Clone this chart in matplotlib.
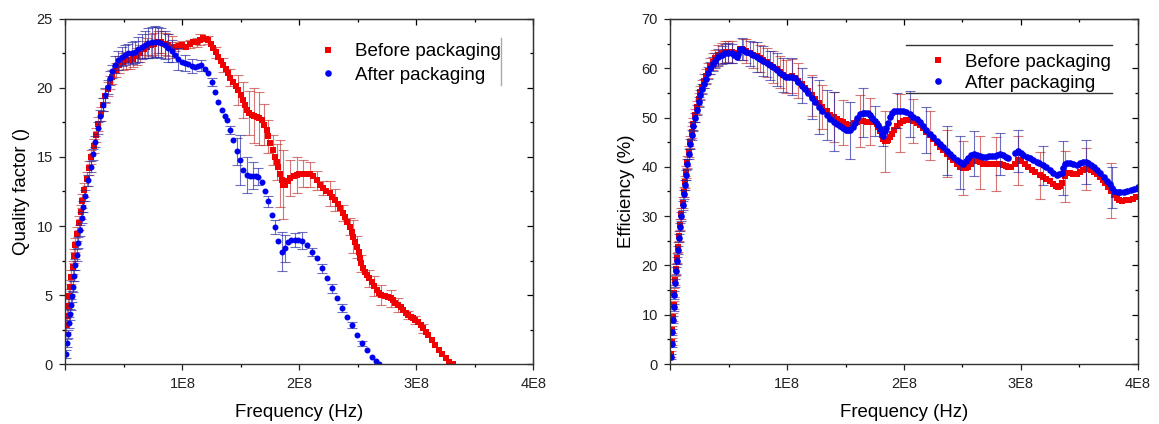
import numpy as np
import matplotlib
matplotlib.use("Agg")
import matplotlib.pyplot as plt
from matplotlib.ticker import MultipleLocator, NullFormatter

plt.rcParams['font.family'] = ['Liberation Sans', 'DejaVu Sans']

# rows: frequency (x 1E8 Hz), value, error bar half-length (0 = no bar)
q_before = np.array([
    (0.008, 2.8, 0.5), (0.015, 3.5, 0.5), (0.022, 4.2, 0.5), (0.030, 4.9, 0.5), (0.040, 5.6, 0.5),
    (0.050, 6.3, 0.5), (0.060, 7.0, 0.5), (0.072, 7.8, 0.5), (0.085, 8.6, 0.5), (0.100, 9.4, 0.5),
    (0.115, 10.2, 0.5), (0.130, 11.0, 0.5), (0.145, 11.8, 0.5), (0.162, 12.6, 0.5), (0.180, 13.4, 0.5),
    (0.200, 14.2, 0.5), (0.220, 15.0, 0.5), (0.240, 15.8, 0.5), (0.260, 16.6, 0.5), (0.280, 17.4, 0.5),
    (0.300, 18.1, 0.5), (0.320, 18.8, 0.5), (0.340, 19.4, 0.5), (0.360, 19.9, 0.5), (0.380, 20.4, 0.5),
    (0.400, 20.8, 0.5), (0.430, 21.3, 0.5), (0.460, 21.7, 0.6), (0.490, 21.9, 0.6), (0.520, 22.0, 0.6),
    (0.550, 22.0, 0.6), (0.580, 22.1, 0.6), (0.610, 22.3, 0.6), (0.640, 22.5, 0.6), (0.670, 22.8, 0.6),
    (0.700, 23.0, 0.6), (0.730, 23.1, 0.8), (0.760, 23.2, 0.8), (0.790, 23.3, 0.8), (0.820, 23.3, 0.8),
    (0.850, 23.2, 0.8), (0.880, 23.1, 0.8), (0.910, 23.0, 0.8), (0.940, 23.0, 0.3), (0.970, 23.05, 0),
    (1.000, 23.1, 0.3), (1.030, 23.0, 0), (1.060, 23.2, 0.3), (1.090, 23.36, 0), (1.120, 23.3, 0.3),
    (1.150, 23.5, 0.4), (1.178, 23.6, 0), (1.200, 23.55, 0), (1.220, 23.5, 0.3), (1.240, 23.2, 0),
    (1.263, 22.9, 0), (1.285, 22.6, 0.4), (1.306, 22.27, 0), (1.330, 21.95, 0), (1.350, 21.67, 0.5),
    (1.370, 21.35, 0), (1.390, 21.06, 0), (1.410, 20.75, 0.6), (1.434, 20.45, 0), (1.455, 20.15, 0),
    (1.477, 19.86, 1.1), (1.500, 19.5, 0), (1.520, 19.13, 1.3), (1.535, 18.75, 0), (1.549, 18.4, 0),
    (1.570, 18.2, 1.6), (1.590, 18.04, 0), (1.610, 18.0, 2.0), (1.634, 17.92, 0), (1.655, 17.8, 1.9),
    (1.677, 17.68, 0), (1.700, 17.35, 1.5), (1.720, 16.96, 0), (1.735, 16.5, 1.2), (1.748, 16.0, 0),
    (1.770, 15.5, 1.1), (1.790, 15.0, 0), (1.805, 14.65, 1.3), (1.820, 14.3, 0), (1.835, 13.8, 2.4),
    (1.848, 13.33, 0), (1.862, 13.0, 2.5), (1.876, 12.97, 0), (1.900, 13.25, 0), (1.920, 13.45, 1.3),
    (1.950, 13.6, 0), (1.976, 13.7, 1.3), (2.000, 13.75, 0), (2.030, 13.8, 1.0), (2.060, 13.8, 0),
    (2.090, 13.75, 0.9), (2.118, 13.65, 0), (2.147, 13.3, 0.7), (2.175, 13.0, 0), (2.200, 12.75, 0.5),
    (2.230, 12.55, 0), (2.260, 12.37, 0.9), (2.280, 12.1, 0), (2.300, 11.9, 0.8), (2.325, 11.6, 0),
    (2.346, 11.28, 0), (2.370, 10.95, 0.6), (2.390, 10.67, 0), (2.410, 10.3, 0), (2.430, 9.95, 0.6),
    (2.446, 9.6, 0), (2.460, 9.22, 1.2), (2.475, 8.85, 0), (2.490, 8.5, 0.8), (2.505, 8.1, 0),
    (2.517, 7.66, 0), (2.530, 7.3, 0.6), (2.545, 6.93, 0), (2.560, 6.7, 0), (2.574, 6.45, 0),
    (2.595, 6.2, 0.6), (2.617, 5.96, 0), (2.640, 5.65, 0.7), (2.660, 5.36, 0), (2.680, 5.15, 0),
    (2.700, 5.0, 0.7), (2.730, 4.95, 0), (2.760, 4.88, 0), (2.780, 4.76, 0.6), (2.800, 4.64, 0),
    (2.820, 4.45, 0), (2.844, 4.28, 0.5), (2.865, 4.1, 0), (2.887, 3.9, 0), (2.910, 3.72, 0),
    (2.930, 3.55, 0.3), (2.950, 3.42, 0), (2.970, 3.3, 0), (2.990, 3.18, 0.3), (3.015, 3.07, 0),
    (3.035, 2.83, 0), (3.058, 2.58, 0.3), (3.080, 2.34, 0), (3.100, 2.1, 0), (3.130, 1.75, 0),
    (3.160, 1.4, 0), (3.190, 1.05, 0), (3.220, 0.7, 0), (3.250, 0.4, 0), (3.280, 0.15, 0),
    (3.310, 0.0, 0),
])

q_after = np.array([
    (0.005, 0.7, 0.3), (0.012, 1.5, 0.3), (0.020, 2.2, 0.3), (0.030, 3.0, 0.4), (0.038, 3.6, 0.4),
    (0.046, 4.3, 0.4), (0.053, 4.9, 0.4), (0.062, 5.6, 0.4), (0.073, 6.4, 0.4), (0.084, 7.2, 0.4),
    (0.095, 7.9, 0.4), (0.110, 8.8, 0.4), (0.124, 9.7, 0.4), (0.138, 10.6, 0.4), (0.152, 11.4, 0.4),
    (0.170, 12.2, 0.4), (0.195, 13.3, 0.4), (0.215, 14.3, 0.4), (0.235, 15.2, 0.4), (0.252, 16.1, 0.4),
    (0.275, 17.1, 0.4), (0.295, 18.0, 0.4), (0.318, 18.8, 0.5), (0.338, 19.5, 0.5), (0.360, 20.1, 0.5),
    (0.380, 20.7, 0.5), (0.400, 21.2, 0.5), (0.423, 21.7, 0.6), (0.450, 22.0, 0.7), (0.480, 22.27, 0.7),
    (0.510, 22.4, 0.7), (0.537, 22.5, 0.7), (0.565, 22.55, 0.8), (0.594, 22.6, 0.8), (0.620, 22.8, 0.9),
    (0.650, 23.0, 0.9), (0.680, 23.15, 1.0), (0.708, 23.24, 1.1), (0.737, 23.3, 1.1), (0.765, 23.36, 1.1),
    (0.790, 23.33, 1.1), (0.820, 23.24, 1.1), (0.850, 23.1, 1.0), (0.879, 22.9, 1.0), (0.910, 22.65, 0.8),
    (0.936, 22.4, 0), (0.965, 22.1, 0.8), (0.993, 21.9, 0), (1.020, 21.8, 0.6), (1.050, 21.75, 0),
    (1.080, 21.6, 0.5), (1.107, 21.5, 0), (1.135, 21.6, 0), (1.160, 21.65, 0.4), (1.190, 21.4, 0),
    (1.220, 21.06, 0), (1.250, 20.45, 0.3), (1.278, 19.7, 0), (1.306, 19.0, 0), (1.335, 18.4, 0),
    (1.360, 18.0, 0), (1.378, 17.7, 0), (1.406, 16.96, 0.3), (1.434, 16.23, 0), (1.463, 15.4, 1.0),
    (1.490, 14.8, 1.8), (1.520, 14.06, 0), (1.549, 13.7, 1.3), (1.580, 13.65, 0), (1.605, 13.65, 1.0),
    (1.630, 13.6, 0), (1.648, 13.57, 0.6), (1.677, 13.2, 0), (1.705, 12.5, 0), (1.733, 11.8, 0.4),
    (1.762, 10.8, 0), (1.790, 9.9, 0.5), (1.820, 8.9, 0), (1.848, 8.14, 1.4), (1.876, 8.38, 1.0),
    (1.904, 8.86, 0), (1.930, 8.95, 0), (1.962, 9.0, 0.5), (1.990, 9.0, 0), (2.020, 8.94, 0.6),
    (2.060, 8.62, 0), (2.104, 8.14, 0.3), (2.147, 7.66, 0), (2.190, 6.93, 0.3), (2.232, 6.2, 0),
    (2.275, 5.48, 0.3), (2.318, 4.76, 0), (2.360, 4.04, 0.3), (2.403, 3.43, 0), (2.446, 2.83, 0.2),
    (2.489, 2.1, 0), (2.532, 1.5, 0.2), (2.574, 1.01, 0), (2.617, 0.53, 0), (2.650, 0.2, 0),
    (2.680, 0.0, 0),
])

eff_before = np.array([
    (0.005, 2.0, 0.6), (0.010, 4.5, 0.7), (0.015, 7.0, 0.7), (0.020, 9.5, 0.8), (0.027, 12.0, 0.8),
    (0.033, 14.5, 0.9), (0.040, 17.0, 0.9), (0.047, 19.3, 1.0), (0.055, 21.5, 1.0), (0.063, 23.7, 1.0),
    (0.073, 26.0, 1.0), (0.083, 28.3, 1.1), (0.093, 30.5, 1.1), (0.103, 32.7, 1.1), (0.113, 34.9, 1.1),
    (0.123, 36.9, 1.2), (0.133, 38.9, 1.2), (0.145, 41.0, 1.2), (0.157, 43.1, 1.2), (0.170, 45.1, 1.2),
    (0.183, 47.0, 1.2), (0.195, 48.7, 1.2), (0.210, 50.5, 1.3), (0.224, 52.1, 1.3), (0.240, 53.7, 1.3),
    (0.255, 55.1, 1.3), (0.270, 56.3, 1.3), (0.285, 57.4, 1.4), (0.300, 58.4, 1.4), (0.320, 59.5, 1.5),
    (0.340, 60.5, 1.6), (0.360, 61.3, 1.7), (0.380, 62.0, 1.8), (0.410, 62.7, 2.0), (0.440, 63.1, 2.1),
    (0.467, 63.3, 2.2), (0.495, 63.4, 2.2), (0.524, 63.3, 2.2), (0.545, 63.1, 0), (0.567, 62.8, 0),
    (0.580, 63.2, 0), (0.595, 64.0, 0), (0.610, 63.9, 0), (0.623, 63.8, 2.2), (0.650, 63.5, 2.4),
    (0.680, 63.1, 0), (0.710, 62.7, 2.6), (0.738, 62.4, 0), (0.765, 62.0, 2.8), (0.795, 61.6, 0),
    (0.825, 61.2, 3.0), (0.852, 60.7, 0), (0.880, 60.3, 3.2), (0.909, 59.8, 0), (0.940, 59.2, 3.3),
    (0.966, 58.7, 0), (0.990, 58.3, 3.4), (1.015, 58.2, 0), (1.040, 58.4, 3.5), (1.066, 58.1, 0),
    (1.095, 57.5, 3.6), (1.123, 56.8, 0), (1.150, 56.1, 0), (1.180, 55.3, 0), (1.210, 54.5, 4.1),
    (1.240, 53.7, 0), (1.270, 52.9, 0), (1.300, 52.1, 4.5), (1.337, 51.3, 0), (1.370, 50.6, 0),
    (1.400, 50.1, 5.0), (1.423, 49.8, 0), (1.450, 49.4, 0), (1.475, 49.0, 4.5), (1.500, 48.7, 0),
    (1.525, 48.4, 0), (1.551, 48.3, 0), (1.575, 48.8, 0), (1.594, 49.1, 0), (1.620, 49.3, 5.2),
    (1.650, 49.3, 0), (1.680, 49.2, 0), (1.708, 49.2, 4.8), (1.730, 49.2, 0), (1.750, 49.0, 0),
    (1.765, 48.6, 0), (1.780, 48.0, 0), (1.795, 47.2, 0), (1.808, 46.4, 0), (1.822, 45.7, 0),
    (1.836, 45.2, 6.2), (1.850, 45.2, 0), (1.865, 45.5, 0), (1.880, 46.0, 0), (1.894, 46.6, 0),
    (1.915, 47.5, 0), (1.937, 48.3, 0), (1.965, 48.9, 5.8), (1.993, 49.3, 0), (2.020, 49.5, 0),
    (2.050, 49.5, 0), (2.080, 49.3, 4.5), (2.108, 48.9, 0), (2.135, 48.4, 0), (2.164, 47.8, 0),
    (2.190, 47.1, 0), (2.222, 46.4, 5.0), (2.250, 45.6, 0), (2.279, 44.9, 0), (2.310, 44.1, 0),
    (2.336, 43.4, 0), (2.365, 42.7, 4.8), (2.393, 42.0, 0), (2.420, 41.3, 0), (2.450, 40.6, 0),
    (2.480, 40.0, 0), (2.507, 39.7, 5.5), (2.530, 39.7, 0), (2.550, 40.0, 0), (2.575, 40.6, 0),
    (2.600, 41.1, 0), (2.620, 41.2, 0), (2.650, 40.9, 5.3), (2.680, 40.6, 0), (2.710, 40.6, 0),
    (2.750, 40.6, 0), (2.790, 40.6, 5.5), (2.820, 40.5, 0), (2.850, 40.3, 0), (2.870, 40.1, 0),
    (2.893, 39.9, 0), (2.920, 40.0, 0), (2.950, 40.6, 0), (2.978, 41.3, 5.0), (3.000, 41.2, 0),
    (3.035, 40.6, 0), (3.060, 40.0, 0), (3.092, 39.4, 0), (3.120, 38.9, 0), (3.163, 38.3, 4.8),
    (3.190, 38.0, 0), (3.220, 37.6, 0), (3.250, 37.1, 0), (3.278, 36.5, 0), (3.300, 36.1, 0),
    (3.320, 36.0, 0), (3.335, 36.2, 0), (3.350, 36.7, 0), (3.378, 38.1, 5.2), (3.400, 38.7, 0),
    (3.420, 38.7, 0), (3.450, 38.6, 0), (3.478, 38.5, 0), (3.505, 38.9, 0), (3.534, 39.3, 0),
    (3.560, 39.6, 4.2), (3.577, 39.6, 0), (3.600, 39.4, 0), (3.630, 39.0, 0), (3.655, 38.5, 0),
    (3.680, 37.9, 0), (3.700, 37.3, 0), (3.720, 36.8, 0), (3.745, 36.0, 0), (3.770, 35.2, 5.5),
    (3.795, 34.3, 0), (3.820, 33.6, 0), (3.845, 33.2, 0), (3.870, 33.1, 0), (3.900, 33.2, 0),
    (3.930, 33.3, 0), (3.960, 33.5, 0), (3.990, 33.8, 0),
])

eff_after = np.array([
    (0.005, 1.5, 0.5), (0.010, 4.0, 0.6), (0.015, 6.5, 0.6), (0.020, 9.0, 0.7), (0.027, 11.5, 0.7),
    (0.033, 14.0, 0.8), (0.040, 16.5, 0.8), (0.047, 18.8, 0.8), (0.055, 21.0, 0.8), (0.063, 23.2, 0.8),
    (0.073, 25.5, 0.8), (0.083, 27.8, 0.9), (0.093, 30.0, 0.9), (0.103, 32.2, 0.9), (0.113, 34.4, 0.9),
    (0.123, 36.4, 1.0), (0.133, 38.4, 1.0), (0.145, 40.5, 1.0), (0.157, 42.6, 1.0), (0.170, 44.6, 1.0),
    (0.183, 46.5, 1.0), (0.195, 48.2, 1.0), (0.210, 50.0, 1.0), (0.224, 51.6, 1.0), (0.240, 53.2, 1.0),
    (0.255, 54.6, 1.0), (0.270, 55.8, 1.0), (0.285, 56.9, 1.0), (0.300, 57.9, 1.0), (0.320, 59.0, 1.2),
    (0.340, 60.0, 1.2), (0.360, 60.8, 1.4), (0.380, 61.5, 1.5), (0.410, 62.2, 1.7), (0.440, 62.7, 1.8),
    (0.467, 63.0, 2.0), (0.495, 63.1, 2.0), (0.524, 63.0, 2.0), (0.545, 62.7, 0), (0.567, 62.3, 0),
    (0.580, 62.8, 0), (0.595, 64.0, 0), (0.610, 63.9, 2.3), (0.623, 63.7, 0), (0.650, 63.4, 0),
    (0.680, 63.0, 2.5), (0.710, 62.6, 0), (0.738, 62.3, 3.0), (0.765, 61.9, 0), (0.795, 61.5, 3.0),
    (0.825, 61.1, 0), (0.852, 60.6, 3.0), (0.880, 60.2, 0), (0.909, 59.7, 3.3), (0.940, 59.1, 0),
    (0.966, 58.6, 3.5), (0.990, 58.2, 0), (1.015, 58.3, 0), (1.040, 58.3, 3.7), (1.066, 58.0, 0),
    (1.095, 57.2, 0), (1.123, 56.5, 3.5), (1.150, 55.7, 0), (1.180, 54.9, 0), (1.210, 54.0, 4.2),
    (1.240, 53.1, 0), (1.270, 52.2, 5.5), (1.300, 51.4, 0), (1.337, 50.5, 5.0), (1.370, 49.8, 0),
    (1.400, 49.2, 6.0), (1.423, 48.7, 0), (1.450, 48.2, 0), (1.475, 47.8, 0), (1.500, 47.5, 0),
    (1.520, 47.4, 0), (1.537, 47.4, 5.8), (1.560, 48.0, 0), (1.580, 48.9, 0), (1.600, 50.0, 0),
    (1.622, 50.7, 0), (1.645, 51.0, 5.0), (1.665, 51.0, 0), (1.690, 50.9, 0), (1.708, 50.6, 0),
    (1.730, 50.0, 0), (1.750, 49.3, 3.0), (1.775, 48.5, 0), (1.794, 47.6, 0), (1.810, 46.8, 0),
    (1.822, 46.3, 2.0), (1.835, 47.2, 0), (1.845, 47.9, 0), (1.865, 48.9, 0), (1.880, 50.2, 0),
    (1.894, 50.9, 0), (1.915, 51.3, 0), (1.937, 51.4, 3.5), (1.965, 51.4, 0), (1.993, 51.3, 0),
    (2.020, 51.1, 0), (2.050, 50.7, 4.6), (2.080, 50.2, 0), (2.108, 49.7, 0), (2.135, 49.0, 0),
    (2.164, 48.2, 0), (2.190, 47.5, 4.7), (2.222, 46.7, 0), (2.250, 46.0, 0), (2.279, 45.3, 0),
    (2.310, 44.6, 0), (2.336, 44.0, 0), (2.365, 43.3, 5.0), (2.393, 42.6, 0), (2.420, 42.0, 0),
    (2.450, 41.4, 0), (2.480, 40.9, 5.4), (2.507, 40.6, 0), (2.530, 41.2, 0), (2.550, 41.8, 0),
    (2.575, 42.4, 0), (2.600, 42.7, 4.5), (2.625, 42.5, 0), (2.650, 42.2, 0), (2.675, 42.0, 0),
    (2.700, 42.1, 0), (2.725, 42.2, 0), (2.750, 42.2, 0), (2.775, 42.3, 0), (2.800, 42.5, 0),
    (2.820, 42.6, 4.3), (2.845, 42.4, 0), (2.870, 42.1, 0), (2.890, 41.8, 0), (2.950, 42.75, 0),
    (2.978, 43.2, 4.2), (3.000, 42.9, 0), (3.020, 42.4, 0), (3.050, 42.0, 0), (3.078, 41.7, 0),
    (3.105, 41.3, 0), (3.135, 41.0, 0), (3.160, 40.7, 0), (3.190, 40.3, 4.0), (3.220, 39.9, 0),
    (3.250, 39.3, 0), (3.280, 38.8, 0), (3.306, 38.4, 0), (3.330, 38.5, 0), (3.350, 38.8, 0),
    (3.365, 39.8, 5.5), (3.378, 40.6, 0), (3.400, 40.8, 0), (3.420, 40.8, 0), (3.450, 40.6, 0),
    (3.478, 40.4, 0), (3.505, 40.7, 0), (3.534, 41.0, 0), (3.560, 41.0, 4.4), (3.577, 40.7, 0),
    (3.600, 40.4, 0), (3.625, 39.9, 0), (3.650, 39.4, 0), (3.680, 38.8, 0), (3.710, 37.9, 0),
    (3.735, 37.2, 0), (3.760, 36.5, 0), (3.780, 35.8, 4.2), (3.800, 35.2, 0), (3.830, 34.9, 0),
    (3.850, 34.8, 0), (3.880, 34.9, 0), (3.910, 35.1, 0), (3.940, 35.3, 0), (3.970, 35.6, 0),
    (4.000, 35.9, 0),
])

series_labels = ['Before packaging', 'After packaging']
x_ticks = [0, 1e8, 2e8, 3e8, 4e8]
x_ticklabels = ['', '1E8', '2E8', '3E8', '4E8']

RED = '#f00000'
BLUE = '#0000f0'


def draw_series(ax, data, marker, color, ecolor, ms, label):
    f = data[:, 0] * 1e8
    v = data[:, 1]
    e = data[:, 2]
    has = e > 0
    ax.errorbar(f[has], v[has], yerr=e[has], fmt='none', ecolor=ecolor,
                elinewidth=0.8, capsize=3.5, capthick=0.8, alpha=0.65)
    ax.plot(f, v, linestyle='none', marker=marker, ms=ms, color=color,
            mec=color, mew=0, label=label)


def style_axes(ax, ymax, ymajor, yminor, ylabel):
    ax.set_xlim(0, 4e8)
    ax.set_ylim(0, ymax)
    ax.set_xticks(x_ticks, x_ticklabels)
    ax.xaxis.set_minor_locator(MultipleLocator(0.5e8))
    ax.yaxis.set_major_locator(MultipleLocator(ymajor))
    ax.yaxis.set_minor_locator(MultipleLocator(yminor))
    ax.tick_params(which='major', direction='out', length=4.5, width=0.9,
                   labelsize=10.5, colors='#222222', pad=4.5)
    ax.tick_params(which='minor', direction='out', length=2.5, width=0.9)
    for sp in ax.spines.values():
        sp.set_linewidth(1.0)
        sp.set_color('#333333')
    ax.set_xlabel('Frequency (Hz)', fontsize=13.4, labelpad=10)
    ax.set_ylabel(ylabel, fontsize=13.4, labelpad=5)

    # inward ticks on the top and right edges
    top = ax.secondary_xaxis('top')
    top.set_xticks(x_ticks)
    top.xaxis.set_minor_locator(MultipleLocator(0.5e8))
    top.xaxis.set_major_formatter(NullFormatter())
    top.tick_params(which='major', direction='in', length=4.5, width=0.9)
    top.tick_params(which='minor', direction='in', length=2.5, width=0.9)
    right = ax.secondary_yaxis('right')
    right.yaxis.set_major_locator(MultipleLocator(ymajor))
    right.yaxis.set_minor_locator(MultipleLocator(yminor))
    right.yaxis.set_major_formatter(NullFormatter())
    right.tick_params(which='major', direction='in', length=4.5, width=0.9)
    right.tick_params(which='minor', direction='in', length=2.5, width=0.9)


fig = plt.figure(figsize=(11.59, 4.24), dpi=100)
ax1 = fig.add_axes([0.0565, 0.1415, 0.4038, 0.8137])
ax2 = fig.add_axes([0.5785, 0.1415, 0.4030, 0.8137])

# left: quality factor
draw_series(ax1, q_before, 's', RED, '#c03030', 3.7, series_labels[0])
draw_series(ax1, q_after, 'o', BLUE, '#2020a0', 4.3, series_labels[1])
style_axes(ax1, 25, 5, 2.5, 'Quality factor ()')
ax1.legend(loc='upper left', bbox_to_anchor=(0.54, 0.93), frameon=False,
           fontsize=13.5, handlelength=1.0, handletextpad=0.95,
           labelspacing=0.35, borderpad=0, borderaxespad=0, markerscale=1.1)
ax1.plot([0.9305, 0.9305], [0.809, 0.945], transform=ax1.transAxes,
         color='#aaaaaa', lw=1.0)

# right: efficiency
draw_series(ax2, eff_before, 's', RED, '#c03030', 4.0, series_labels[0])
draw_series(ax2, eff_after, 'o', BLUE, '#2020a0', 4.8, series_labels[1])
style_axes(ax2, 70, 10, 5, 'Efficiency (%)')
ax2.legend(loc='upper left', bbox_to_anchor=(0.552, 0.9), frameon=False,
           fontsize=13.5, handlelength=1.0, handletextpad=0.95,
           labelspacing=0.22, borderpad=0, borderaxespad=0, markerscale=1.0)
for yy in (0.9245, 0.786):
    ax2.plot([0.505, 0.945], [yy, yy], transform=ax2.transAxes,
             color='#333333', lw=1.0)

fig.savefig('out.png', dpi=100)
